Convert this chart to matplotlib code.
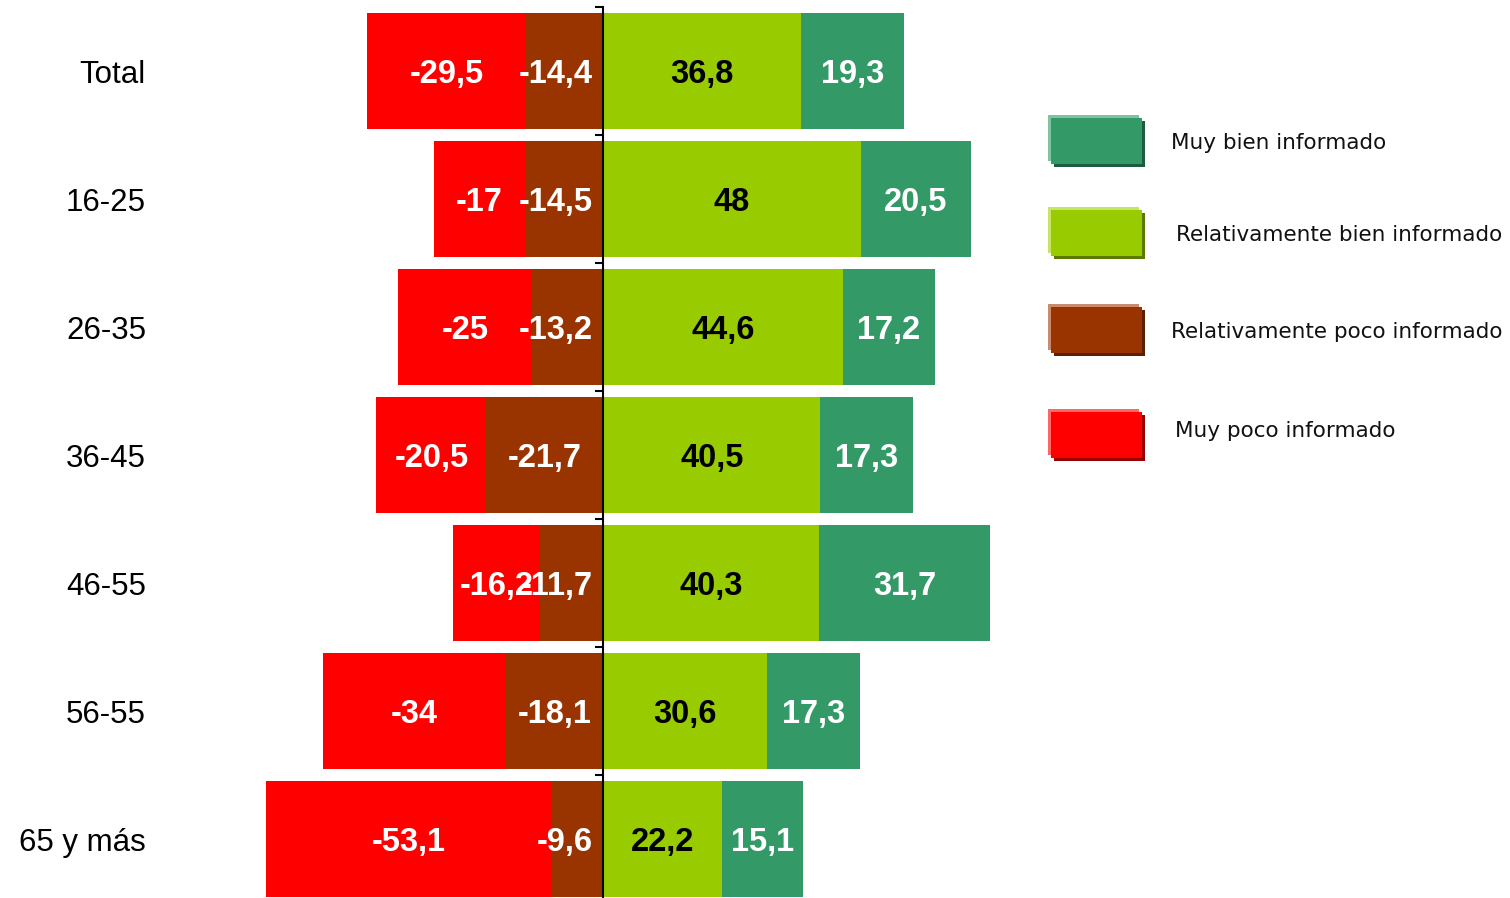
import matplotlib.pyplot as plt
from matplotlib.patches import Rectangle

# Grado de información por grupo de edad (%)
grupos = ['Total', '16-25', '26-35', '36-45', '46-55', '56-55', '65 y más']
muy_poco = [-29.5, -17, -25, -20.5, -16.2, -34, -53.1]
rel_poco = [-14.4, -14.5, -13.2, -21.7, -11.7, -18.1, -9.6]
rel_bien = [36.8, 48, 44.6, 40.5, 40.3, 30.6, 22.2]
muy_bien = [19.3, 20.5, 17.2, 17.3, 31.7, 17.3, 15.1]

series = ['Muy bien informado', 'Relativamente bien informado',
          'Relativamente poco informado', 'Muy poco informado']
colores = ['#339966', '#99CC00', '#993300', '#FF0000']
claros = ['#7FC4A0', '#C6E36A', '#C98A6E', '#FF6666']
oscuros = ['#1F5C3D', '#5C7A00', '#5C1F00', '#990000']

W, H = 1510, 898
fig = plt.figure(figsize=(W / 100, H / 100), dpi=100)
escala = 5.37  # px por punto porcentual
cero = 603
ax = fig.add_axes([0, 1 - 903 / H, 1, 896 / H])
ax.set_xlim(-cero / escala, (W - cero) / escala)
ax.set_ylim(6.5, -0.5)

y = list(range(len(grupos)))
alto = 0.9
ax.barh(y, rel_poco, height=alto, color=colores[2], zorder=2)
ax.barh(y, muy_poco, left=rel_poco, height=alto, color=colores[3], zorder=2)
ax.barh(y, rel_bien, height=alto, color=colores[1], zorder=2)
ax.barh(y, muy_bien, left=rel_bien, height=alto, color=colores[0], zorder=2)

fmt = lambda v: f'{v:g}'.replace('.', ',')
base = 0.09  # baja la línea base para centrar las cifras en la barra
lab = dict(fontsize=23.5, fontweight='bold', family='Liberation Sans',
           va='baseline', zorder=4)
for i in y:
    yb = i + base
    # parte negativa
    c = rel_poco[i] / 2
    if c + 7 > -2:
        ax.text(-2, yb, fmt(rel_poco[i]), color='white', ha='right', **lab)
    else:
        ax.text(c, yb, fmt(rel_poco[i]), color='white', ha='center', **lab)
    ax.text(rel_poco[i] + muy_poco[i] / 2, yb, fmt(muy_poco[i]),
            color='white', ha='center', **lab)
    # parte positiva
    ax.text(rel_bien[i] / 2, yb, fmt(rel_bien[i]), color='black',
            ha='center', **lab)
    ax.text(rel_bien[i] + muy_bien[i] / 2, yb, fmt(muy_bien[i]),
            color='white', ha='center', **lab)
    ax.text(146 / W, yb, grupos[i], transform=ax.get_yaxis_transform(),
            ha='right', va='baseline', fontsize=22.5, family='Liberation Sans')

# eje vertical en cero con marcas entre grupos
for s in ['top', 'right', 'bottom']:
    ax.spines[s].set_visible(False)
ax.spines['left'].set_position(('data', 0))
ax.spines['left'].set_linewidth(1.5)
ax.spines['left'].set_zorder(5)
ax.set_yticks([k - 0.5 for k in range(len(grupos) + 1)])
ax.set_yticklabels([])
ax.tick_params(axis='y', direction='out', length=6, width=1.5)
ax.set_xticks([])

# leyenda
cajas = [115, 207, 304, 409]
textos_x = [1171, 1176, 1171, 1175]
textos_y = [149, 241, 338, 437]
for k in range(4):
    y0 = cajas[k]
    for dx, dy, col in [(0, 0, claros[k]), (6, 6, oscuros[k]), (3, 3, colores[k])]:
        fig.patches.append(Rectangle(((1048 + dx) / W, 1 - (y0 + dy + 46) / H),
                                     91 / W, 46 / H, transform=fig.transFigure,
                                     facecolor=col, edgecolor='none'))
    fig.text(textos_x[k] / W, 1 - textos_y[k] / H, series[k], fontsize=15.5,
             family='DejaVu Sans', va='baseline', ha='left', color='#111111')

plt.savefig('out.png', dpi=100)
